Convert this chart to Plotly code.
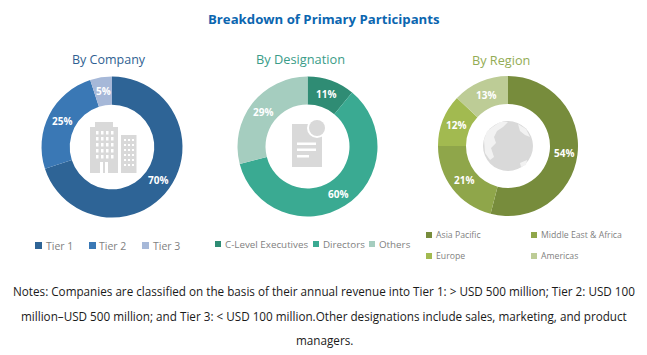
import math
import plotly.graph_objects as go

W, H = 647, 355

company_labels = ["Tier 1", "Tier 2", "Tier 3"]
company_values = [70, 25, 5]
company_colors = ["#2E6496", "#3A78B5", "#A6B8D8"]

designation_labels = ["C-Level Executives", "Directors", "Others"]
designation_values = [11, 60, 29]
designation_colors = ["#2F8C74", "#3AAA92", "#A5CDBF"]

region_labels = ["Asia Pacific", "Middle East & Africa", "Europe", "Americas"]
region_values = [54, 21, 12, 13]
region_colors = ["#778C3C", "#8FA64A", "#A2BA50", "#BDCC96"]

title_text = "Breakdown of Primary Participants"
notes_lines = [
    "Notes: Companies are classified on the basis of their annual revenue into Tier 1: &gt; USD 500 million; Tier 2: USD 100",
    "million–USD 500 million; and Tier 3: &lt; USD 100 million.Other designations include sales, marketing, and product",
    "managers.",
]

FONT = "Open Sans"
GREY = "#D9D9D9"


def fx(px):
    return px / W


def fy(py):
    return 1 - py / H


fig = go.Figure()
shapes, annos = [], []


def text(x, y, s, size, color, anchor="center", bold=False, family=FONT):
    annos.append(dict(
        x=fx(x), y=fy(y), xref="paper", yref="paper", text=f"<b>{s}</b>" if bold else s,
        showarrow=False, xanchor=anchor, yanchor="middle",
        font=dict(family=family, size=size, color=color),
    ))


def rect(x0, y0, x1, y1, color):
    shapes.append(dict(type="rect", xref="paper", yref="paper", x0=fx(x0), x1=fx(x1),
                       y0=fy(y0), y1=fy(y1), fillcolor=color, line=dict(width=0)))


def circle(cx, cy, r, color):
    shapes.append(dict(type="circle", xref="paper", yref="paper", x0=fx(cx - r), x1=fx(cx + r),
                       y0=fy(cy - r), y1=fy(cy + r), fillcolor=color, line=dict(width=0)))


def poly(points, color):
    path = " ".join(("M" if i == 0 else "L") + f" {fx(x)} {fy(y)}" for i, (x, y) in enumerate(points)) + " Z"
    shapes.append(dict(type="path", xref="paper", yref="paper", path=path,
                       fillcolor=color, line=dict(width=0)))


def donut(labels, values, colors, cx, cy, r, name):
    fig.add_trace(go.Pie(
        labels=labels, values=values, name=name, sort=False, direction="clockwise",
        rotation=0, hole=0.6,
        marker=dict(colors=colors, line=dict(width=0)),
        textinfo="none",
        domain=dict(x=[fx(cx - r), fx(cx + r)], y=[fy(cy + r), fy(cy - r)]),
        showlegend=False, automargin=False,
    ))
    # Percent labels sit at the middle of each slice's ring, at full size even on thin slices
    total = sum(values)
    run = 0
    for v in values:
        a = 2 * math.pi * (run + v / 2) / total
        run += v
        rm = r * 0.8
        text(cx + rm * math.sin(a), cy - rm * math.cos(a), f"{v}%", 10, "white", bold=True)


donut(company_labels, company_values, company_colors, 112, 147, 70.5, "By Company")
donut(designation_labels, designation_values, designation_colors, 307.5, 146.5, 70, "By Designation")
donut(region_labels, region_values, region_colors, 508, 146, 70, "By Region")

text(324, 19, title_text, 13.2, "#0B66B0", bold=True)
text(109, 59, "By Company", 12.5, "#2F5F92")
text(300.5, 59, "By Designation", 12.8, "#3A9C88")
text(501, 60, "By Region", 12.7, "#93AC55")

# Centre icons
rect(90, 127, 118, 173, GREY)
rect(95, 122, 113, 127, GREY)
rect(121, 135, 136.5, 173, GREY)
for r_y in (131, 137, 143, 149, 155):
    for c_x in (96, 101, 106, 111):
        rect(c_x, r_y, c_x + 2.5, r_y + 3.5, "white")
rect(100, 162, 108, 173, "white")
rect(103, 162, 105, 173, GREY)
for r_y in (139, 144, 149, 154, 159, 164):
    for c_x in (124, 128, 132):
        rect(c_x, r_y, c_x + 2, r_y + 2, "white")

rect(292, 124, 322, 167, GREY)
circle(317, 128, 10, "white")
circle(317, 128, 8, GREY)
rect(297, 142.5, 316, 145, "white")
rect(297, 148.5, 316, 151, "white")
rect(297, 155, 309, 157.5, "white")

circle(508, 146, 25, GREY)
poly([(484, 140), (487, 131), (494, 126), (500, 122), (508, 122), (503, 127), (497, 131), (494, 137),
      (496, 143), (491, 148), (494, 157), (490, 160), (485, 153)], "#F2F2F2")
poly([(518, 124), (526, 129), (530, 137), (525, 135), (520, 131)], "#F2F2F2")
poly([(520, 163), (527, 160), (526, 165), (521, 167)], "#F2F2F2")

# Legends
LEG = "#7F7F7F"
for lab, col, sx, tx in zip(company_labels, company_colors, (35, 89, 142), (44, 97, 151)):
    rect(sx, 242, sx + 7, 249, col)
    text(tx, 245.5, lab, 10.5, LEG, "left")
for lab, col, sx, tx in zip(designation_labels, designation_colors, (215, 313, 369), (223, 321, 377)):
    rect(sx, 241, sx + 6, 247, col)
    text(tx, 244.5, lab, 9.8, LEG, "left")
for lab, col, sx, sy in zip(region_labels, region_colors, (426, 531, 426, 531), (232, 232, 253, 253)):
    rect(sx, sy, sx + 6, sy + 6, col)
    text(sx + 8, sy + 3, lab, 8.7, LEG, "left")

# Notes
text(324, 291, notes_lines[0], 11.7, "#1A1A1A")
text(324, 316, notes_lines[1], 11.7, "#1A1A1A")
text(324, 340, notes_lines[2], 11.7, "#1A1A1A")

fig.update_layout(
    width=W, height=H, margin=dict(l=0, r=0, t=0, b=0),
    paper_bgcolor="white", plot_bgcolor="white",
    showlegend=False, shapes=shapes, annotations=annos,
)
fig.write_html("out.html", config={"displayModeBar": False},
               post_script="document.body.style.margin='0';document.documentElement.style.overflow='hidden';")
